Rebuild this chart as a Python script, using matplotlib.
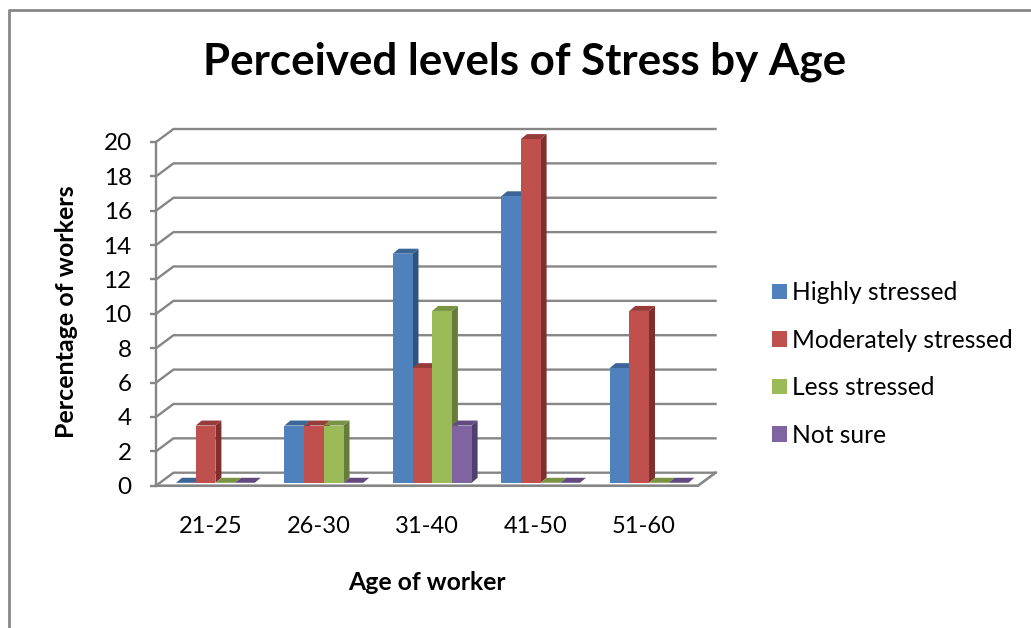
import matplotlib
matplotlib.use('Agg')
from matplotlib import pyplot as plt
from matplotlib.lines import Line2D
from matplotlib.patches import Patch, Polygon
import numpy as np

categories = ['21-25', '26-30', '31-40', '41-50', '51-60']
highly = [0, 3.33, 13.33, 16.67, 6.67]
moderately = [3.33, 3.33, 6.67, 20, 10]
less = [0, 3.33, 10, 0, 0]
not_sure = [0, 0, 3.33, 0, 0]
y_ticks = list(range(0, 21, 2))

series_names = ['Highly stressed', 'Moderately stressed', 'Less stressed', 'Not sure']
front_colors = ['#4F81BD', '#C0504D', '#9BBB59', '#8064A2']
side_colors = ['#2E5480', '#7F2F2D', '#667C3A', '#50406C']
top_colors = ['#3A6596', '#963C3A', '#799343', '#604A80']
GRID = '#868686'

W, H = 1031, 628
LEFT, RIGHT, BOTTOM, TOP = 156, 698, 485.7, 142

# offsets of the fake 3d look, in data units
wall_dx = 17.5 / 108.4
wall_dy = 13 / 17.18
bar_dx = 6 / 108.4
bar_dy = 5 / 17.18
bar_base = 0.17
bar_w = 19.7 / 108.4
group_shift = 0.048

plt.rcParams['font.family'] = ['Lato', 'DejaVu Sans']

fig = plt.figure(figsize=(W / 100, H / 100), dpi=100)
ax = fig.add_axes([LEFT / W, 1 - BOTTOM / H, (RIGHT - LEFT) / W, (BOTTOM - TOP) / H])
ax.set_xlim(0, len(categories))
ax.set_ylim(0, 20)
for s in ['top', 'right', 'bottom']:
    ax.spines[s].set_visible(False)
ax.spines['left'].set_color(GRID)
ax.spines['left'].set_linewidth(1.7)

# back wall lines and the floor
for v in y_ticks:
    ax.plot([0, wall_dx, 5 + wall_dx], [v, v + wall_dy, v + wall_dy],
            color=GRID, lw=1.7, clip_on=False, zorder=1, solid_joinstyle='miter')
ax.plot([0, 5, 5 + wall_dx], [0, 0, wall_dy], color=GRID, lw=1.9, clip_on=False, zorder=1)

# bars: side, top, then front, left to right so the next bar covers the side
data = np.array([highly, moderately, less, not_sure])
z = 2
for c in range(len(categories)):
    for s in range(len(series_names)):
        val = data[s][c]
        x0 = c + 0.5 + group_shift + (s - 2) * bar_w
        x1 = x0 + bar_w
        y1 = bar_base + val
        ax.add_patch(Polygon([(x1, bar_base), (x1 + bar_dx, bar_base + bar_dy),
                              (x1 + bar_dx, y1 + bar_dy), (x1, y1)],
                             fc=side_colors[s], ec='none', clip_on=False, zorder=z))
        ax.add_patch(Polygon([(x0, y1), (x1, y1), (x1 + bar_dx, y1 + bar_dy), (x0 + bar_dx, y1 + bar_dy)],
                             fc=top_colors[s], ec='none', clip_on=False, zorder=z))
        ax.bar(x0, val, bar_w, bottom=bar_base, align='edge', color=front_colors[s],
               clip_on=False, zorder=z + 0.5)
        z += 1

ax.set_yticks(y_ticks)
ax.set_xticks(np.arange(len(categories)) + 0.5)
ax.set_xticklabels(categories)
ax.tick_params(axis='y', length=4.5, width=1.7, color=GRID, pad=13, labelsize=17.5, labelcolor='black')
ax.tick_params(axis='x', length=0, pad=22, labelsize=17, labelcolor='black')

# chart frame
fig.add_artist(Line2D([8.5 / W, 8.5 / W, 1], [0, 1 - 10 / H, 1 - 10 / H], color=GRID, lw=2))

fig.text(525 / W, 1 - 62 / H, 'Perceived levels of Stress by Age', ha='center', va='center',
         fontsize=31.6, fontweight='bold')
fig.text(67 / W, 1 - 312 / H, 'Percentage of workers', rotation=90, ha='center', va='center',
         fontsize=18, fontweight='bold')
fig.text(427 / W, 1 - 582 / H, 'Age of worker', ha='center', va='center', fontsize=17.8, fontweight='bold')

handles = [Patch(fc=col, ec='none') for col in front_colors]
fig.legend(handles, series_names, loc='center left', bbox_to_anchor=(772 / W, 1 - 364 / H), frameon=False,
           fontsize=17.7, handlelength=0.6, handleheight=0.6, handletextpad=0.2, labelspacing=1.0,
           borderpad=0, borderaxespad=0)

plt.savefig('out.png', dpi=100)
plt.close()
